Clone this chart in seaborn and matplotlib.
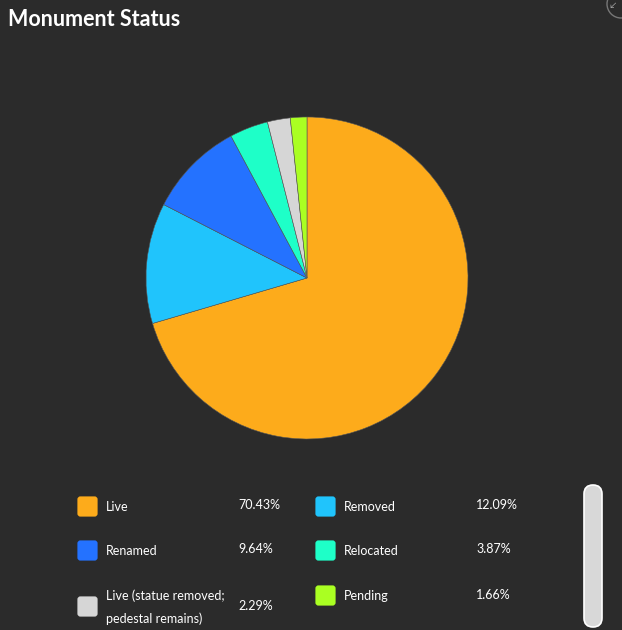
import matplotlib
matplotlib.use("Agg")
import matplotlib.pyplot as plt
from matplotlib.patches import FancyBboxPatch, Circle
import seaborn as sns

# Data
categories = ["Live", "Removed", "Renamed", "Relocated",
              "Live (statue removed;\npedestal remains)", "Pending"]
shares = [70.43, 12.09, 9.64, 3.87, 2.29, 1.66]
colors = ["#fdab1b", "#20c4fc", "#2472ff", "#1effc8", "#d6d6d6", "#aaff22"]
pct_labels = ["70.43%", "12.09%", "9.64%", "3.87%", "2.29%", "1.66%"]

bg = "#2b2b2b"
sns.set_style("dark", {"axes.facecolor": bg, "figure.facecolor": bg})
plt.rcParams["font.family"] = ["Lato", "DejaVu Sans"]
palette = sns.color_palette(colors)

W, H = 622, 630
fig = plt.figure(figsize=(W / 100, H / 100), dpi=100)
fig.patch.set_facecolor(bg)

# Pie
cx, cy, r = 307, 278, 161
ax = fig.add_axes([(cx - r) / W, 1 - (cy + r) / H, 2 * r / W, 2 * r / H])
ax.pie(shares, colors=palette, startangle=90, counterclock=False,
       wedgeprops={"linewidth": 0.4, "edgecolor": "#555555"})
ax.set_xlim(-1, 1)
ax.set_ylim(-1, 1)
ax.set_aspect("auto")
ax.axis("off")

# Overlay axes in pixel coordinates for title and legend
ov = fig.add_axes([0, 0, 1, 1], facecolor="none")
ov.set_xlim(0, W)
ov.set_ylim(H, 0)
ov.axis("off")

ov.text(8, 20, "Monument Status", color="white", fontsize=15.5,
        fontweight="bold", va="center", ha="left")

# top-right icon (partial circle)
ov.add_patch(Circle((621, 4), 14, fill=False, edgecolor="#777777", lw=1))
ov.text(612, 6, "\u2199", color="#aaaaaa", fontsize=6, va="center", ha="center")

# Legend layout: (index, x of swatch, y centre of text, x of pct, y of pct)
layout = [
    (0, 77, 507, 238, 505),
    (1, 315, 507, 476, 505),
    (2, 77, 551, 238, 549),
    (3, 315, 551, 476, 549),
    (4, 77, 607, 238, 606),
    (5, 315, 596, 476, 595),
]
for i, sx, ty, px, py in layout:
    ov.add_patch(FancyBboxPatch((sx + 2, ty - 9), 17, 17,
                                boxstyle="round,pad=1.6,rounding_size=3",
                                facecolor=palette[i], edgecolor="none"))
    ov.text(sx + 29, ty, categories[i], color="white", fontsize=9,
            va="center", ha="left", linespacing=2.0)
    ov.text(px, py, pct_labels[i], color="white", fontsize=9,
            va="center", ha="left")

# scrollbar
ov.add_patch(FancyBboxPatch((586, 487), 14, 138,
                            boxstyle="round,pad=2,rounding_size=9",
                            facecolor="#d8d8d8", edgecolor="white", lw=1.2))

fig.savefig("out.png", dpi=100, facecolor=bg)
